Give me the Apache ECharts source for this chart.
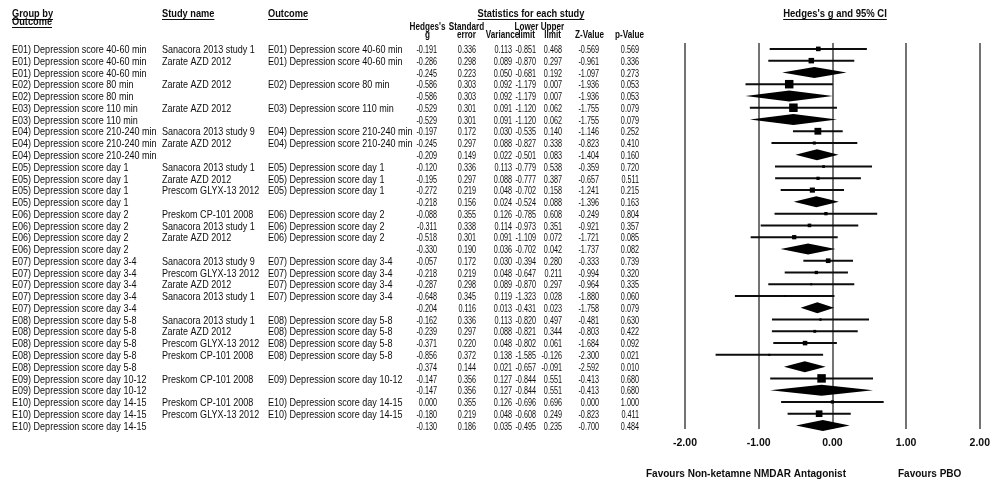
<!DOCTYPE html>
<html>
<head>
<meta charset="utf-8">
<title>Hedges's g forest plot</title>
<script src="https://cdn.jsdelivr.net/npm/echarts@6/dist/echarts.min.js"></script>
<style>
  html, body { margin: 0; padding: 0; background: #fff; }
  .main { width: 993px; height: 483px; }
</style>
</head>
<body>
<div class="main"></div>
<script>
var G01 = 'E01) Depression score 40-60 min',
    G02 = 'E02) Depression score 80 min',
    G03 = 'E03) Depression score 110 min',
    G04 = 'E04) Depression score 210-240 min',
    G05 = 'E05) Depression score day 1',
    G06 = 'E06) Depression score day 2',
    G07 = 'E07) Depression score day 3-4',
    G08 = 'E08) Depression score day 5-8',
    G09 = 'E09) Depression score day 10-12',
    G10 = 'E10) Depression score day 14-15';

// one entry per table row; an empty study name marks the pooled row of a group
var groupLabels = [G01, G01, G01, G02, G02, G03, G03, G04, G04, G04,
                   G05, G05, G05, G05, G06, G06, G06, G06,
                   G07, G07, G07, G07, G07, G08, G08, G08, G08, G08,
                   G09, G09, G10, G10, G10];
var studyNames = ['Sanacora 2013 study 1', 'Zarate AZD 2012', '',
                  'Zarate AZD 2012', '',
                  'Zarate AZD 2012', '',
                  'Sanacora 2013 study 9', 'Zarate AZD 2012', '',
                  'Sanacora 2013 study 1', 'Zarate AZD 2012', 'Prescom GLYX-13 2012', '',
                  'Preskom CP-101 2008', 'Sanacora 2013 study 1', 'Zarate AZD 2012', '',
                  'Sanacora 2013 study 9', 'Prescom GLYX-13 2012', 'Zarate AZD 2012', 'Sanacora 2013 study 1', '',
                  'Sanacora 2013 study 1', 'Zarate AZD 2012', 'Prescom GLYX-13 2012', 'Preskom CP-101 2008', '',
                  'Preskom CP-101 2008', '',
                  'Preskom CP-101 2008', 'Prescom GLYX-13 2012', ''];
var hedgesG = [-0.191, -0.286, -0.245, -0.586, -0.586, -0.529, -0.529, -0.197, -0.245, -0.209,
               -0.120, -0.195, -0.272, -0.218, -0.088, -0.311, -0.518, -0.330,
               -0.057, -0.218, -0.287, -0.648, -0.204, -0.162, -0.239, -0.371, -0.856, -0.374,
               -0.147, -0.147, 0.000, -0.180, -0.130];
var stdError = [0.336, 0.298, 0.223, 0.303, 0.303, 0.301, 0.301, 0.172, 0.297, 0.149,
                0.336, 0.297, 0.219, 0.156, 0.355, 0.338, 0.301, 0.190,
                0.172, 0.219, 0.298, 0.345, 0.116, 0.336, 0.297, 0.220, 0.372, 0.144,
                0.356, 0.356, 0.355, 0.219, 0.186];
var variance = [0.113, 0.089, 0.050, 0.092, 0.092, 0.091, 0.091, 0.030, 0.088, 0.022,
                0.113, 0.088, 0.048, 0.024, 0.126, 0.114, 0.091, 0.036,
                0.030, 0.048, 0.089, 0.119, 0.013, 0.113, 0.088, 0.048, 0.138, 0.021,
                0.127, 0.127, 0.126, 0.048, 0.035];
var lowerLimit = [-0.851, -0.870, -0.681, -1.179, -1.179, -1.120, -1.120, -0.535, -0.827, -0.501,
                  -0.779, -0.777, -0.702, -0.524, -0.785, -0.973, -1.109, -0.702,
                  -0.394, -0.647, -0.870, -1.323, -0.431, -0.820, -0.821, -0.802, -1.585, -0.657,
                  -0.844, -0.844, -0.696, -0.608, -0.495];
var upperLimit = [0.468, 0.297, 0.192, 0.007, 0.007, 0.062, 0.062, 0.140, 0.338, 0.083,
                  0.538, 0.387, 0.158, 0.088, 0.608, 0.351, 0.072, 0.042,
                  0.280, 0.211, 0.297, 0.028, 0.023, 0.497, 0.344, 0.061, -0.126, -0.091,
                  0.551, 0.551, 0.696, 0.249, 0.235];
var zValue = [-0.569, -0.961, -1.097, -1.936, -1.936, -1.755, -1.755, -1.146, -0.823, -1.404,
              -0.359, -0.657, -1.241, -1.396, -0.249, -0.921, -1.721, -1.737,
              -0.333, -0.994, -0.964, -1.880, -1.758, -0.481, -0.803, -1.684, -2.300, -2.592,
              -0.413, -0.413, 0.000, -0.823, -0.700];
var pValue = [0.569, 0.336, 0.273, 0.053, 0.053, 0.079, 0.079, 0.252, 0.410, 0.160,
              0.720, 0.511, 0.215, 0.163, 0.804, 0.357, 0.085, 0.082,
              0.739, 0.320, 0.335, 0.060, 0.079, 0.630, 0.422, 0.092, 0.021, 0.010,
              0.680, 0.680, 1.000, 0.411, 0.484];

(function () {
  // the source uses a condensed face; Liberation Sans squeezed horizontally stands in for it
  var SANS = "'Liberation Sans', Arial, sans-serif";
  var rowFont = '11.5px ' + SANS;
  var headFont = 'bold 11px ' + SANS;
  var subHeadFont = 'bold 11px ' + SANS;
  var INK = '#0d0d0d';

  // table column anchors (px)
  var colGroup = 12, colStudy = 162, colOutcome = 268;
  var numRight = [437, 476, 512, 536, 562, 599, 639];
  var numCols = [hedgesG, stdError, variance, lowerLimit, upperLimit, zValue, pValue];

  var measure = document.createElement('canvas').getContext('2d');
  function textWidth(str, font) {
    measure.font = font;
    return measure.measureText(str).width;
  }

  // relative weight of each study inside its group (inverse variance)
  var invSum = {};
  groupLabels.forEach(function (g, i) {
    if (studyNames[i]) invSum[g] = (invSum[g] || 0) + 1 / variance[i];
  });
  var forestData = groupLabels.map(function (g, i) {
    var summary = studyNames[i] ? 0 : 1;
    var w = summary ? 1 : (1 / variance[i]) / invSum[g];
    return [lowerLimit[i], upperLimit[i], hedgesG[i], i, w, summary];
  });
  var tableData = groupLabels.map(function (g, i) { return [-2, i]; });

  function txt(x, y, s, font, align, sx) {
    return {
      type: 'text', x: x, y: y, scaleX: sx || 1, silent: true,
      style: { text: s, font: font, fill: INK, align: align || 'left', verticalAlign: 'middle',
               textAlign: align || 'left', textVerticalAlign: 'middle' }
    };
  }

  // header texts, some underlined
  var graphics = [];
  function header(x, y, s, font, align, sx, underline) {
    graphics.push(txt(x, y, s, font, align, sx));
    if (underline) {
      var w = textWidth(s, font) * sx;
      var x0 = align === 'center' ? x - w / 2 : x;
      graphics.push({ type: 'line', silent: true,
        shape: { x1: x0, y1: y + 5.5, x2: x0 + w, y2: y + 5.5 },
        style: { stroke: INK, lineWidth: 1 } });
    }
  }
  header(colGroup, 14, 'Group by', headFont, 'left', 0.84, true);
  header(colGroup, 22, 'Outcome', headFont, 'left', 0.84, true);
  header(colStudy, 14, 'Study name', headFont, 'left', 0.84, true);
  header(colOutcome, 14, 'Outcome', headFont, 'left', 0.84, true);
  header(531, 14, 'Statistics for each study', headFont, 'center', 0.84, true);
  var colHeads = [["Hedges's", 'g'], ['Standard', 'error'], ['', 'Variance'], ['Lower', 'limit'],
                  ['Upper', 'limit'], ['', 'Z-Value'], ['', 'p-Value']];
  colHeads.forEach(function (h, k) {
    var cx = numRight[k] - 9.5;
    if (h[0]) header(cx, 27, h[0], subHeadFont, 'center', 0.74, false);
    header(cx, 35, h[1], subHeadFont, 'center', 0.74, false);
  });
  header(835, 14, "Hedges's g and 95% CI", 'bold 10px ' + SANS, 'center', 0.95, true);
  header(646, 474, 'Favours Non-ketamne NMDAR Antagonist', 'bold 10px ' + SANS, 'left', 1, false);
  header(898, 474, 'Favours PBO', 'bold 10px ' + SANS, 'left', 1, false);

  var myChart = echarts.init(document.querySelector('.main'));

  var option = {
    animation: false,
    grid: { left: 685, top: 43, width: 297, height: 386 },
    xAxis: {
      type: 'value', min: -2, max: 2, interval: 1,
      axisLine: { show: false }, axisTick: { show: false },
      splitLine: { show: true, lineStyle: { color: '#444', width: 1.5 } },
      axisLabel: {
        formatter: function (v) { return v.toFixed(2); },
        fontWeight: 'bold', fontSize: 10.5, fontFamily: SANS, color: INK, margin: 9
      }
    },
    yAxis: { type: 'value', min: -0.5, max: 32.3, inverse: true, show: false },
    graphic: graphics,
    series: [{
      type: 'custom',
      silent: true,
      data: forestData,
      encode: { x: [0, 1, 2], y: 3 },
      renderItem: function (params, api) {
        var row = api.value(3);
        var lo = api.coord([api.value(0), row]);
        var hi = api.coord([api.value(1), row]);
        var mid = api.coord([api.value(2), row]);
        var y = mid[1];
        if (api.value(5)) {
          return { type: 'polygon',
            shape: { points: [[lo[0], y], [mid[0], y - 5.5], [hi[0], y], [mid[0], y + 5.5]] },
            style: { fill: '#000' } };
        }
        var s = Math.max(1.5, 8.5 * Math.pow(api.value(4), 0.75));
        return { type: 'group', children: [
          { type: 'line', shape: { x1: lo[0], y1: y, x2: hi[0], y2: y },
            style: { stroke: INK, lineWidth: 2 } },
          { type: 'rect', shape: { x: mid[0] - s / 2, y: y - s / 2, width: s, height: s },
            style: { fill: '#000' } }
        ] };
      }
    }, {
      type: 'custom',
      silent: true,
      data: tableData,
      encode: { x: 0, y: 1 },
      renderItem: function (params, api) {
        var i = api.value(1);
        var y = api.coord([-2, i])[1] + 1;
        var kids = [txt(colGroup, y, groupLabels[i], rowFont, 'left', 0.785)];
        if (studyNames[i]) {
          kids.push(txt(colStudy, y, studyNames[i], rowFont, 'left', 0.785));
          kids.push(txt(colOutcome, y, groupLabels[i], rowFont, 'left', 0.785));
        }
        numCols.forEach(function (col, k) {
          kids.push(txt(numRight[k], y, col[i].toFixed(3), rowFont, 'right', 0.63));
        });
        return { type: 'group', children: kids };
      }
    }]
  };

  myChart.setOption(option);
})();
</script>
</body>
</html>
